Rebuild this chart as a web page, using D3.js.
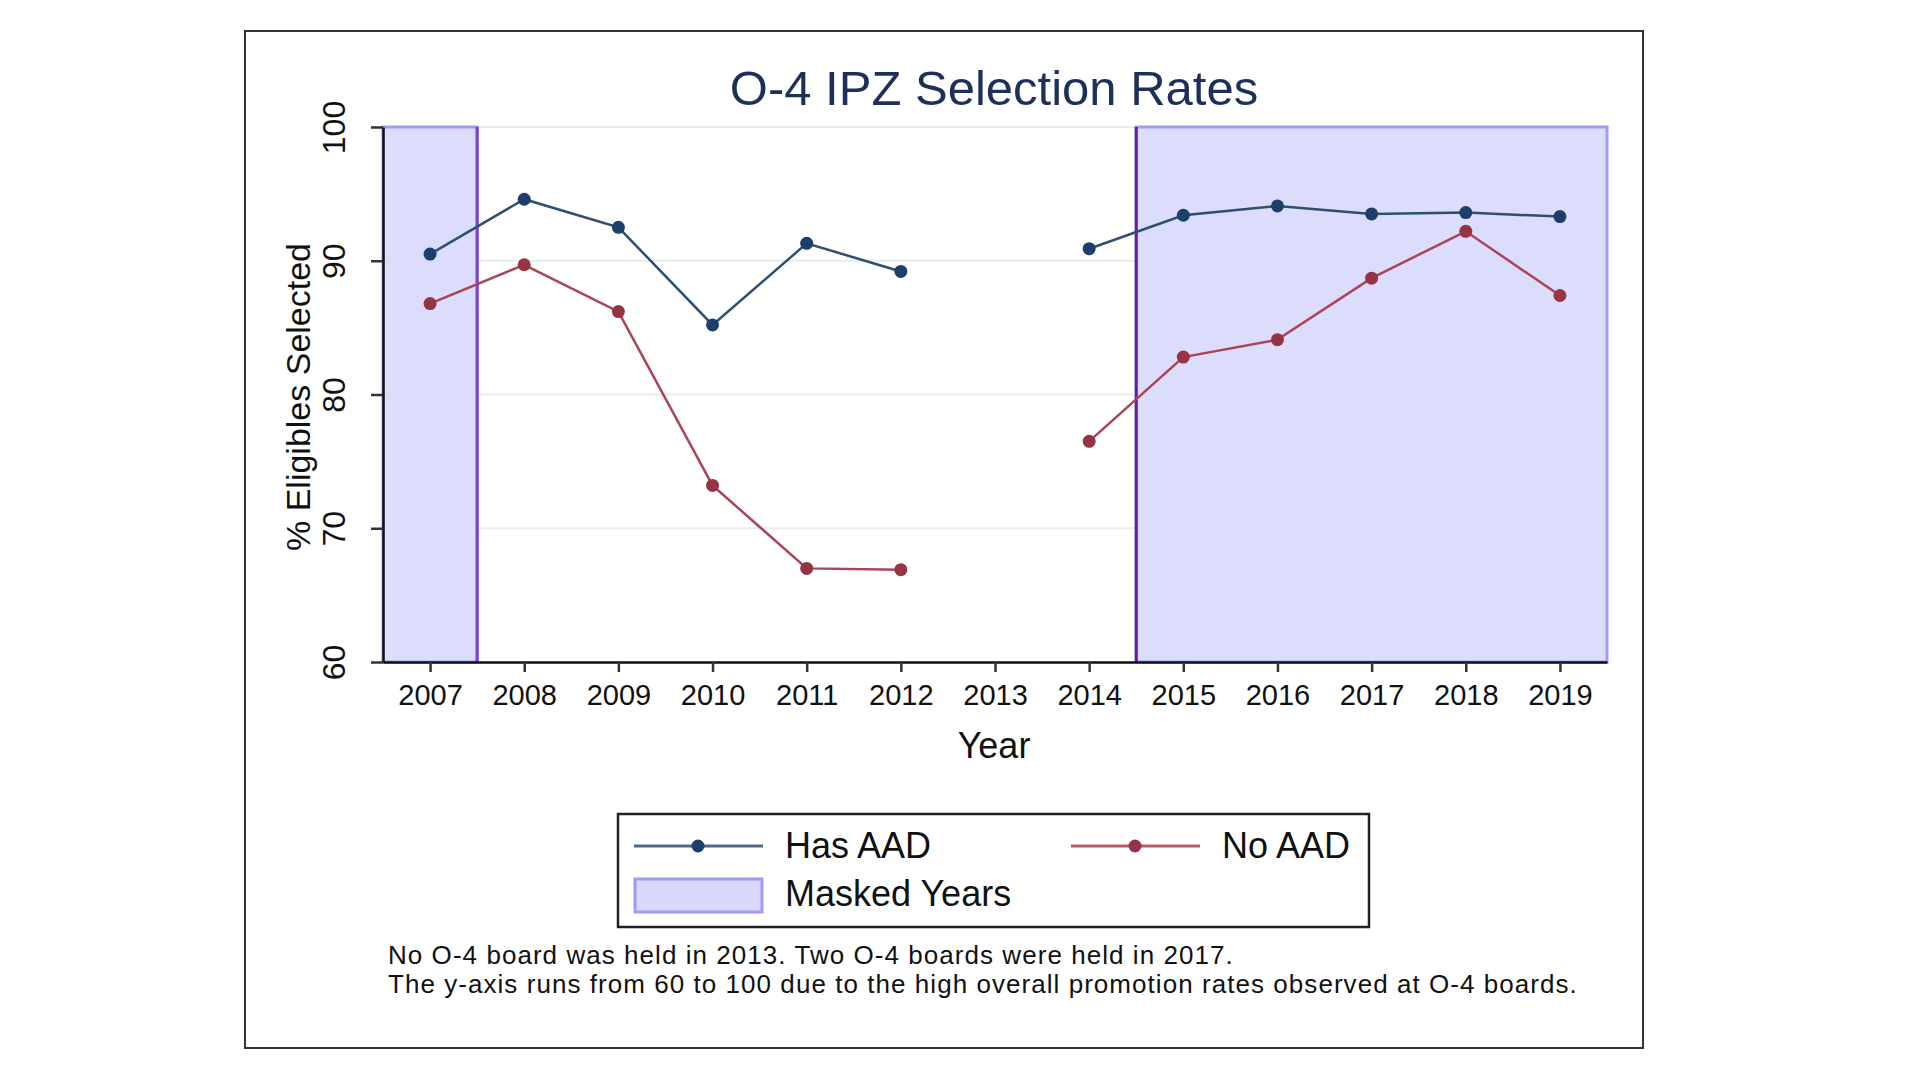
<!DOCTYPE html>
<html>
<head>
<meta charset="utf-8">
<script src="https://cdn.jsdelivr.net/npm/d3@7"></script>
<style>
  body { margin: 0; background: #fff; }
  svg { font-family: "Liberation Sans", Arial, sans-serif; }
</style>
</head>
<body>
<script>
var years = [2007, 2008, 2009, 2010, 2011, 2012, 2013, 2014, 2015, 2016, 2017, 2018, 2019];
// null = no board held that year
var hasAAD = [90.5, 94.6, 92.5, 85.2, 91.3, 89.2, null, 90.9, 93.4, 94.1, 93.5, 93.6, 93.3];
var noAAD  = [86.8, 89.7, 86.2, 73.2, 67.0, 66.9, null, 76.5, 82.8, 84.1, 88.7, 92.2, 87.4];
var yTicks = [60, 70, 80, 90, 100];
var maskedRanges = [[2006.5, 2007.5], [2014.5, 2019.5]];
var noteLines = [
  "No O-4 board was held in 2013. Two O-4 boards were held in 2017.",
  "The y-axis runs from 60 to 100 due to the high overall promotion rates observed at O-4 boards."
];

var svgWidth = 1920;
var svgHeight = 1080;
var plot = { left: 383, right: 1607, top: 127, bottom: 662 };

var svg = d3.select("body")
  .append("svg")
  .attr("width", svgWidth)
  .attr("height", svgHeight);

// outer frame
svg.append("rect")
  .attr("x", 245).attr("y", 31)
  .attr("width", 1398).attr("height", 1017)
  .attr("fill", "#fff")
  .attr("stroke", "#333")
  .attr("stroke-width", 2);

var xScale = d3.scaleLinear()
  .domain([2006.5, 2019.5])
  .range([plot.left, plot.right]);

var yScale = d3.scaleLinear()
  .domain([60, 100])
  .range([plot.bottom, plot.top]);

// gridlines
svg.append("g")
  .selectAll("line")
  .data(yTicks.filter(d => d > 60))
  .enter()
  .append("line")
  .attr("x1", plot.left).attr("x2", plot.right)
  .attr("y1", d => yScale(d)).attr("y2", d => yScale(d))
  .attr("stroke", "#e3eeef")
  .attr("stroke-width", 2);

// masked year bands
svg.append("g")
  .selectAll("rect")
  .data(maskedRanges)
  .enter()
  .append("rect")
  .attr("x", d => xScale(d[0]))
  .attr("y", yScale(100))
  .attr("width", d => xScale(d[1]) - xScale(d[0]))
  .attr("height", yScale(60) - yScale(100))
  .attr("fill", "#d8d8fc")
  .attr("fill-opacity", 0.9)
  .attr("stroke", "#9c9cfa")
  .attr("stroke-width", 3);

// vertical purple lines at the inner edges
svg.append("line")
  .attr("x1", xScale(2007.5)).attr("x2", xScale(2007.5))
  .attr("y1", yScale(100)).attr("y2", yScale(60))
  .attr("stroke", "#7d3fcc").attr("stroke-width", 3);
svg.append("line")
  .attr("x1", xScale(2014.5)).attr("x2", xScale(2014.5))
  .attr("y1", yScale(100)).attr("y2", yScale(60))
  .attr("stroke", "#661c9e").attr("stroke-width", 3);

// axes
var bottomAxis = d3.axisBottom(xScale)
  .tickValues(years)
  .tickFormat(d3.format("d"))
  .tickSize(10)
  .tickSizeOuter(0);
var leftAxis = d3.axisLeft(yScale)
  .tickValues(yTicks)
  .tickSize(12)
  .tickSizeOuter(0);

var xAxisG = svg.append("g")
  .attr("transform", `translate(0, ${plot.bottom})`)
  .call(bottomAxis);
xAxisG.select(".domain").attr("stroke", "#111").attr("stroke-width", 2.5);
xAxisG.selectAll(".tick line").attr("stroke", "#333").attr("stroke-width", 2.5);
xAxisG.selectAll(".tick text")
  .attr("y", 43)
  .attr("dy", 0)
  .attr("font-size", 29)
  .attr("fill", "#111")
  .attr("font-family", "Liberation Sans, Arial, sans-serif");

var yAxisG = svg.append("g")
  .attr("transform", `translate(${plot.left}, 0)`)
  .call(leftAxis);
yAxisG.select(".domain").attr("stroke", "#111").attr("stroke-width", 2.5);
yAxisG.selectAll(".tick line").attr("stroke", "#333").attr("stroke-width", 2.5);
yAxisG.selectAll(".tick text")
  .attr("x", 0).attr("dy", 0)
  .attr("transform", "translate(-38, 0) rotate(-90)")
  .attr("text-anchor", "middle")
  .attr("font-size", 32)
  .attr("fill", "#111")
  .attr("font-family", "Liberation Sans, Arial, sans-serif");

// lines and markers
var series = [
  { name: "Has AAD", values: hasAAD, line: "#2e4f70", dot: "#1d3f6b", key: "#4d6b88" },
  { name: "No AAD", values: noAAD, line: "#a94556", dot: "#963445", key: "#b65a68" }
];

var line = d3.line()
  .defined(d => d.v !== null)
  .x(d => xScale(d.year))
  .y(d => yScale(d.v));

series.forEach(function(s) {
  var pts = years.map((y, i) => ({ year: y, v: s.values[i] }));
  svg.append("path")
    .datum(pts)
    .attr("d", line)
    .attr("fill", "none")
    .attr("stroke", s.line)
    .attr("stroke-width", 2.5);
  svg.append("g")
    .selectAll("circle")
    .data(pts.filter(d => d.v !== null))
    .enter()
    .append("circle")
    .attr("cx", d => xScale(d.year))
    .attr("cy", d => yScale(d.v))
    .attr("r", 6.5)
    .attr("fill", s.dot);
});

// title and axis titles
svg.append("text")
  .attr("x", 994).attr("y", 105)
  .attr("text-anchor", "middle")
  .attr("font-size", 49)
  .attr("fill", "#1e2f5a")
  .text("O-4 IPZ Selection Rates");

svg.append("text")
  .attr("x", 994).attr("y", 758)
  .attr("text-anchor", "middle")
  .attr("font-size", 36)
  .attr("fill", "#111")
  .text("Year");

svg.append("text")
  .attr("transform", "translate(310, 397) rotate(-90)")
  .attr("text-anchor", "middle")
  .attr("font-size", 34)
  .attr("fill", "#111")
  .text("% Eligibles Selected");

// legend
var legend = svg.append("g");
legend.append("rect")
  .attr("x", 618).attr("y", 814)
  .attr("width", 751).attr("height", 113)
  .attr("fill", "#fff")
  .attr("stroke", "#222")
  .attr("stroke-width", 2.5);

var legendItems = [
  { s: series[0], x: 634, y: 846 },
  { s: series[1], x: 1071, y: 846 }
];
legendItems.forEach(function(it) {
  legend.append("line")
    .attr("x1", it.x).attr("x2", it.x + 129)
    .attr("y1", it.y).attr("y2", it.y)
    .attr("stroke", it.s.key)
    .attr("stroke-width", 3);
  legend.append("circle")
    .attr("cx", it.x + 64).attr("cy", it.y)
    .attr("r", 6.5)
    .attr("fill", it.s.dot);
  legend.append("text")
    .attr("x", it.x + 151).attr("y", it.y + 12)
    .attr("font-size", 36)
    .attr("fill", "#111")
    .text(it.s.name);
});
legend.append("rect")
  .attr("x", 635).attr("y", 879)
  .attr("width", 127).attr("height", 33)
  .attr("fill", "#d8d8fc")
  .attr("stroke", "#9c9cfa")
  .attr("stroke-width", 3);
legend.append("text")
  .attr("x", 785).attr("y", 906)
  .attr("font-size", 36)
  .attr("fill", "#111")
  .text("Masked Years");

// note
svg.append("g")
  .selectAll("text")
  .data(noteLines)
  .enter()
  .append("text")
  .attr("x", 388)
  .attr("y", (d, i) => 964 + i * 29)
  .attr("font-size", 26)
  .attr("letter-spacing", 1.05)
  .attr("fill", "#111")
  .text(d => d);
</script>
</body>
</html>
